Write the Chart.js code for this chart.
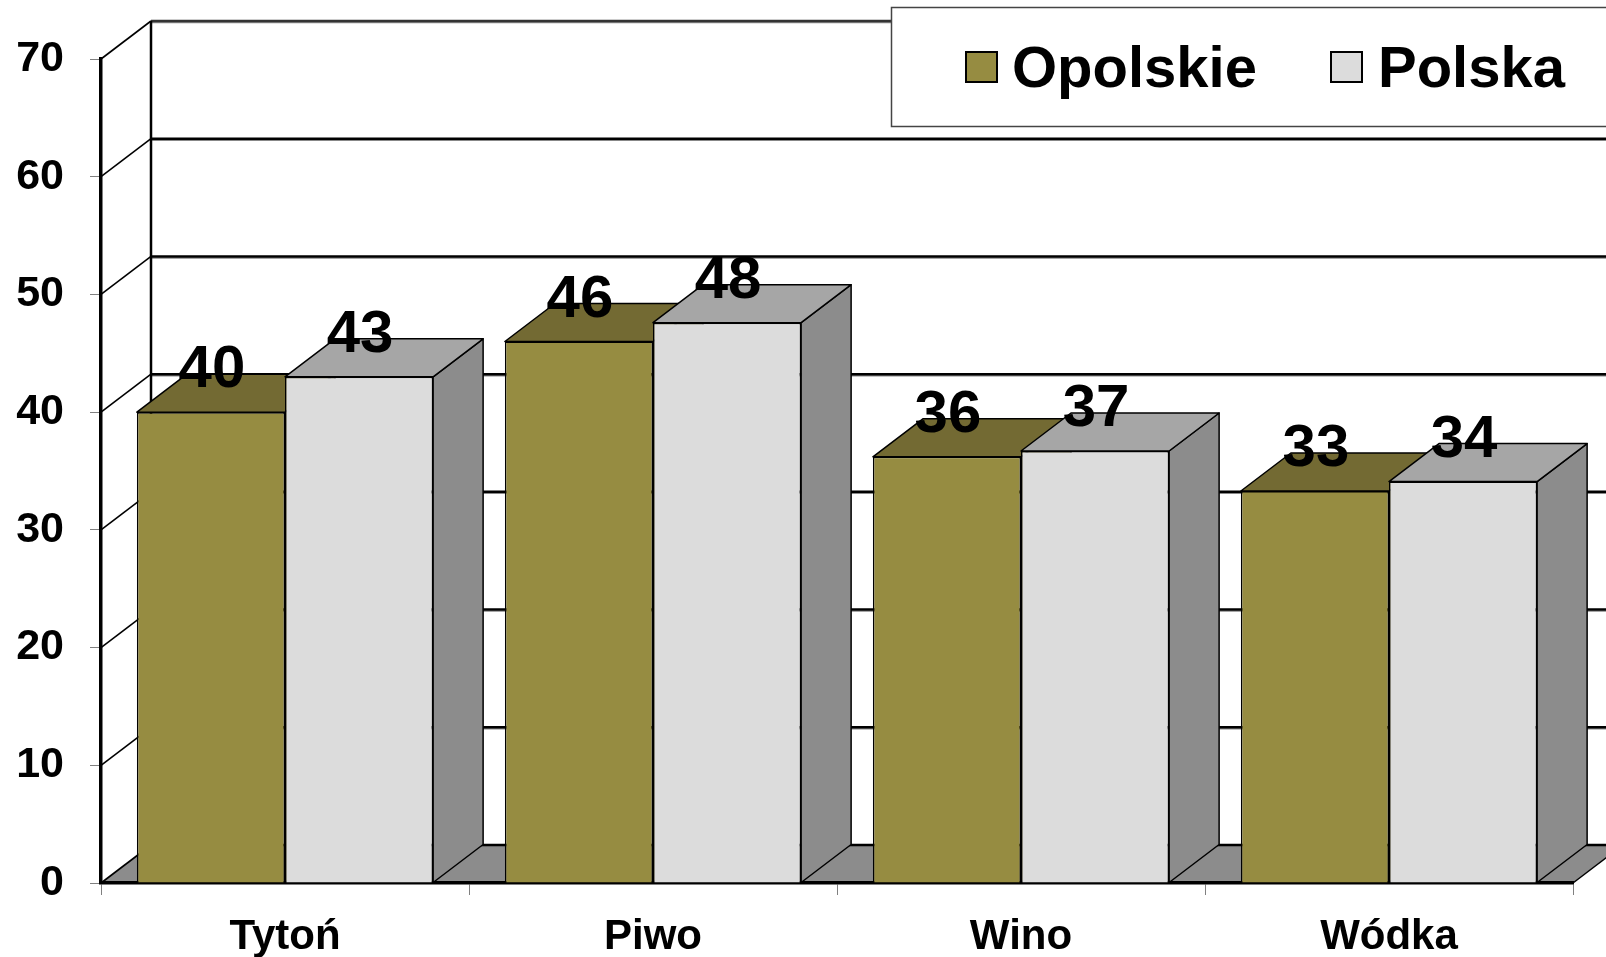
<!DOCTYPE html>
<html>
<head>
<meta charset="utf-8">
<script src="https://cdn.jsdelivr.net/npm/chart.js@4/dist/chart.umd.min.js"></script>
<style>
  html, body { margin: 0; padding: 0; background: #fff; overflow: hidden; }
  #wrap { width: 1606px; height: 957px; }
</style>
</head>
<body>
<div id="wrap"><canvas id="c" width="1606" height="957"></canvas></div>
<script>
// ---- data ----
const categories = ['Tytoń', 'Piwo', 'Wino', 'Wódka'];
const seriesNames = ['Opolskie', 'Polska'];
const opolskie = [40, 46, 36.2, 33.3];
const polska = [43, 47.6, 36.7, 34.1];
const yTickValues = [0, 10, 20, 30, 40, 50, 60, 70];

// ---- styles ----
const FONT = "'Liberation Sans', Arial, sans-serif";
const DEPTH = { dx: 50, dy: 38 };
const colors = {
  front: ['#968C41', '#DCDCDC'],
  top:   ['#736A33', '#A6A6A6'],
  side:  ['#5E5729', '#8C8C8C'],
  floor: '#8C8C8C'
};

function poly(ctx, pts, fill, stroke, lw) {
  ctx.beginPath();
  ctx.moveTo(pts[0][0], pts[0][1]);
  for (let i = 1; i < pts.length; i++) ctx.lineTo(pts[i][0], pts[i][1]);
  ctx.closePath();
  if (fill) { ctx.fillStyle = fill; ctx.fill(); }
  if (stroke) { ctx.strokeStyle = stroke; ctx.lineWidth = lw || 1; ctx.stroke(); }
}
function line(ctx, x1, y1, x2, y2, color, lw) {
  ctx.beginPath();
  ctx.moveTo(x1, y1); ctx.lineTo(x2, y2);
  ctx.strokeStyle = color; ctx.lineWidth = lw; ctx.stroke();
}

const threeD = {
  id: 'threeD',
  beforeDraw(chart) {
    const ctx = chart.ctx;
    const { left, right, top, bottom } = chart.chartArea;
    const ys = chart.scales.y;
    const { dx, dy } = DEPTH;
    ctx.save();
    ctx.fillStyle = '#fff';
    ctx.fillRect(0, 0, chart.width, chart.height);
    // floor
    poly(ctx, [[left, bottom], [left + dx, bottom - dy], [right + dx, bottom - dy], [right, bottom]], colors.floor, null);
    line(ctx, right, bottom, right + dx, bottom - dy, '#000', 1.5);
    // gridlines on back wall + side wall diagonals
    yTickValues.forEach(v => {
      const y = ys.getPixelForValue(v);
      line(ctx, left + dx, y - dy + 1.5, chart.width + 60, y - dy + 1.5, '#888', 1.5);
      line(ctx, left + dx, y - dy, chart.width + 60, y - dy, v === 70 ? '#333' : '#000', 2.5);
      line(ctx, left, y, left + dx, y - dy, '#000', 1.6);
    });
    // back wall left edge
    line(ctx, left + dx, top - dy, left + dx, bottom - dy, '#000', 2.5);
    ctx.restore();
  },
  beforeDatasetsDraw(chart) {
    const ctx = chart.ctx;
    const { dx, dy } = DEPTH;
    ctx.save();
    ctx.lineJoin = 'round';
    chart.data.datasets.forEach((ds, i) => {
      const meta = chart.getDatasetMeta(i);
      meta.data.forEach(el => {
        const x0 = el.x - el.width / 2, x1 = el.x + el.width / 2;
        const t = el.y, b = el.base;
        poly(ctx, [[x1, t], [x1 + dx, t - dy], [x1 + dx, b - dy], [x1, b]], colors.side[i], '#000', 1.5);
        poly(ctx, [[x0, t], [x0 + dx, t - dy], [x1 + dx, t - dy], [x1, t]], colors.top[i], '#000', 1.5);
      });
    });
    ctx.restore();
  },
  afterDatasetsDraw(chart) {
    const ctx = chart.ctx;
    ctx.save();
    ctx.font = 'bold 60px ' + FONT;
    ctx.fillStyle = '#000';
    ctx.textAlign = 'center';
    ctx.textBaseline = 'alphabetic';
    chart.data.datasets.forEach((ds, i) => {
      const meta = chart.getDatasetMeta(i);
      meta.data.forEach((el, j) => {
        ctx.fillText(String(Math.round(ds.data[j])), el.x + 1, el.y - 25);
      });
    });
    ctx.restore();
  },
  afterDraw(chart) {
    const ctx = chart.ctx;
    ctx.save();
    // legend box
    ctx.fillStyle = '#fff';
    ctx.fillRect(891, 7, 800, 119);
    ctx.strokeStyle = '#444';
    ctx.lineWidth = 1.5;
    ctx.strokeRect(891.5, 7.5, 800, 119);
    const items = [
      { sx: 966, tx: 1012 },
      { sx: 1331, tx: 1378 }
    ];
    ctx.font = 'bold 58px ' + FONT;
    ctx.textBaseline = 'alphabetic';
    ctx.textAlign = 'left';
    chart.data.datasets.forEach((ds, i) => {
      const it = items[i];
      ctx.fillStyle = ds.backgroundColor;
      ctx.fillRect(it.sx, 52, 31, 30);
      ctx.strokeStyle = '#000';
      ctx.lineWidth = 2;
      ctx.strokeRect(it.sx, 52, 31, 30);
      ctx.fillStyle = '#000';
      ctx.fillText(ds.label, it.tx, 87);
    });
    ctx.restore();
  }
};

new Chart(document.getElementById('c'), {
  type: 'bar',
  data: {
    labels: categories,
    datasets: [
      { label: seriesNames[0], data: opolskie, backgroundColor: colors.front[0], borderColor: '#000', borderWidth: 1.5 },
      { label: seriesNames[1], data: polska, backgroundColor: colors.front[1], borderColor: '#000', borderWidth: 1.5 }
    ]
  },
  options: {
    responsive: false,
    animation: false,
    devicePixelRatio: 1,
    categoryPercentage: 0.805,
    barPercentage: 1,
    layout: { padding: { top: 59, right: 33, left: 0, bottom: 0 } },
    plugins: { legend: { display: false }, tooltip: { enabled: false } },
    scales: {
      x: {
        grid: { display: true, drawOnChartArea: false, drawTicks: true, tickLength: 12, color: '#808080', lineWidth: 1, offset: true },
        border: { display: true, color: '#000', width: 3.5 },
        ticks: { color: '#000', font: { family: FONT, size: 42, weight: 'bold' }, padding: 17 },
        afterFit(s) { s.height = 74; }
      },
      y: {
        min: 0, max: 70,
        grid: { display: true, drawOnChartArea: false, drawTicks: true, tickLength: 11, color: '#808080', lineWidth: 1 },
        border: { display: true, color: '#000', width: 3.5 },
        ticks: { stepSize: 10, color: '#000', font: { family: FONT, size: 43, weight: 'bold' }, padding: 26 },
        afterFit(s) { s.width = 101; }
      }
    }
  },
  plugins: [threeD]
});
</script>
</body>
</html>
